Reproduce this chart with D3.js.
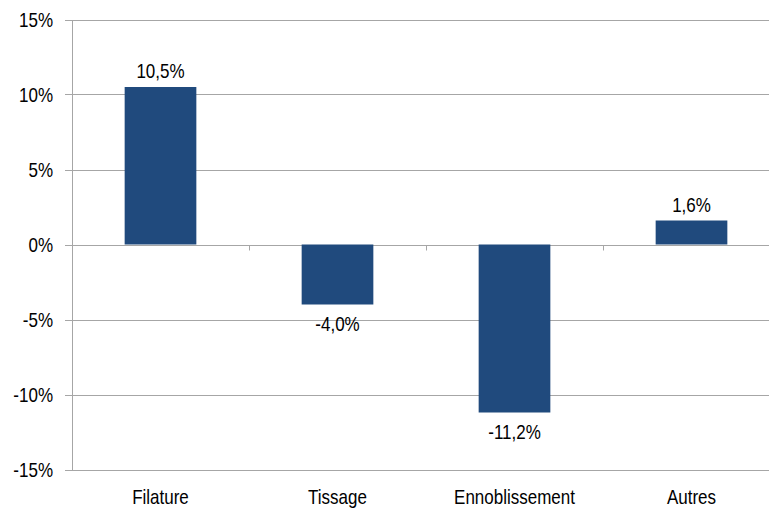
<!DOCTYPE html>
<html><head><meta charset="utf-8">
<script src="https://cdn.jsdelivr.net/npm/d3@7"></script>
<style>
html,body{margin:0;padding:0;background:#fff;overflow:hidden}
text{font-family:"Liberation Sans Narrow","Arial Narrow","Liberation Sans",Arial,sans-serif;fill:#000}
</style></head><body>
<svg id="c" width="769" height="510"></svg>
<script>
const categories = ["Filature","Tissage","Ennoblissement","Autres"];
const values = [10.5, -4.0, -11.2, 1.6];
const valueLabels = ["10,5%","-4,0%","-11,2%","1,6%"];
const yTicks = [15,10,5,0,-5,-10,-15];
const yTickLabels = ["15%","10%","5%","0%","-5%","-10%","-15%"];

(function(){
const svg = d3.select("#c");
const pLeft = 72, pRight = 780, pTop = 19.5, pBottom = 469.5;
const x = d3.scaleBand().domain(categories).range([pLeft, pRight]).padding(0);
const y = d3.scaleLinear().domain([-15, 15]).range([pBottom, pTop]);
const grid = "#a6a6a6";
const sx = 0.85;
const tr = (tx, ty) => `translate(${tx},${ty}) scale(${sx},1)`;

svg.append("g").selectAll("line").data(yTicks).join("line")
  .attr("x1", pLeft - 7).attr("x2", pRight)
  .attr("y1", d => Math.round(y(d)) + 0.5).attr("y2", d => Math.round(y(d)) + 0.5)
  .attr("stroke", grid).attr("stroke-width", 1);

svg.append("line").attr("x1", pLeft + 0.5).attr("x2", pLeft + 0.5)
  .attr("y1", Math.round(y(15)) + 0.5).attr("y2", Math.round(y(-15)) + 0.5)
  .attr("stroke", grid);

svg.append("g").selectAll("text").data(yTicks).join("text")
  .attr("transform", d => tr(53, y(d) + 7))
  .attr("text-anchor", "end").attr("font-size", 20)
  .text((d, i) => yTickLabels[i]);

const zeroY = Math.round(y(0)) + 0.5;
svg.append("g").selectAll("line").data(categories.slice(1)).join("line")
  .attr("x1", d => Math.round(x(d)) + 0.5).attr("x2", d => Math.round(x(d)) + 0.5)
  .attr("y1", zeroY).attr("y2", zeroY + 5)
  .attr("stroke", grid);

const bw = x.bandwidth() * 0.405;
svg.append("g").selectAll("rect").data(values).join("rect")
  .attr("x", (d, i) => x(categories[i]) + x.bandwidth() / 2 - bw / 2)
  .attr("width", bw)
  .attr("y", d => y(Math.max(0, d)))
  .attr("height", d => Math.abs(y(d) - y(0)))
  .attr("fill", "#204a7d");

svg.append("g").selectAll("text").data(values).join("text")
  .attr("transform", (d, i) => tr(x(categories[i]) + x.bandwidth() / 2, d >= 0 ? y(d) - 9 : y(d) + 26))
  .attr("text-anchor", "middle").attr("font-size", 20)
  .text((d, i) => valueLabels[i]);

svg.append("g").selectAll("text").data(categories).join("text")
  .attr("transform", d => tr(x(d) + x.bandwidth() / 2, 504))
  .attr("text-anchor", "middle").attr("font-size", 20)
  .text(d => d);
})();
</script>
</body></html>
